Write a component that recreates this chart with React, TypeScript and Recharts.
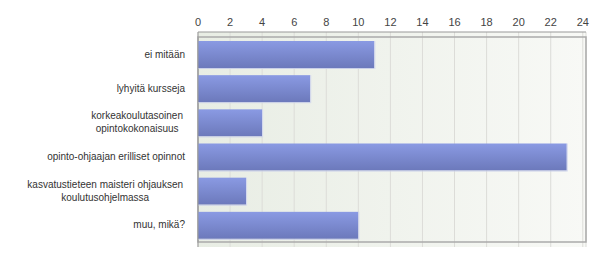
import { BarChart, Bar, XAxis, YAxis, CartesianGrid, ReferenceArea } from 'recharts';

document.body.style.margin = '0';

const categories = [
  'ei mitään',
  'lyhyitä kursseja',
  'korkeakoulutasoinen\nopintokokonaisuus',
  'opinto-ohjaajan erilliset opinnot',
  'kasvatustieteen maisteri ohjauksen\nkoulutusohjelmassa',
  'muu, mikä?',
];
const counts = [11, 7, 4, 23, 3, 10];
const xTicks = [0, 2, 4, 6, 8, 10, 12, 14, 16, 18, 20, 22, 24];

const data = categories.map((name, i) => ({ name, value: counts[i] }));

const FONT = '"Liberation Sans", Arial, sans-serif';
const FS = 10;

const ctx = document.createElement('canvas').getContext('2d');
const measure = (s: string) => {
  if (!ctx) return s.length * 5;
  ctx.font = `${FS}px ${FONT}`;
  return ctx.measureText(s).width;
};

const XTick = ({ x, payload }: any) => (
  <text x={x} y={26} textAnchor="middle" fontSize={11} fill="#444" fontFamily={FONT}>
    {payload.value}
  </text>
);

const YTick = ({ x, y, payload }: any) => {
  const lines = String(payload.value).split('\n');
  const lineH = 13;
  const top = y - ((lines.length - 1) * lineH) / 2;
  // multi-line labels: lines centred within a right aligned block
  const maxW = Math.max(...lines.map(measure));
  const cx = x - 7 - maxW / 2;
  return (
    <text fontSize={FS} fill="#333" fontFamily={FONT}>
      {lines.map((l, i) => (
        <tspan
          key={i}
          x={lines.length > 1 ? cx : x - 5}
          y={top + i * lineH}
          dy="0.35em"
          textAnchor={lines.length > 1 ? 'middle' : 'end'}
        >
          {l}
        </tspan>
      ))}
    </text>
  );
};

const BarShape = ({ x, y, width, height }: any) => (
  <g>
    <rect x={x} y={y} width={width} height={height} fill="url(#barGrad)" />
    <line x1={x} y1={y + height + 0.5} x2={x + width} y2={y + height + 0.5} stroke="#c9cfe8" />
    <line x1={x + width + 0.5} y1={y} x2={x + width + 0.5} y2={y + height + 1} stroke="#d3d8ee" />
  </g>
);

export default function App() {
  return (
    <div style={{ width: 600, height: 262, background: '#fff' }}>
      <BarChart
        width={600}
        height={262}
        data={data}
        layout="vertical"
        margin={{ top: 0, right: 14, bottom: 15, left: 8 }}
        barCategoryGap={0}
      >
        <defs>
          <linearGradient id="bgGrad" x1="0" y1="0" x2="1" y2="0">
            <stop offset="0%" stopColor="#e8ede4" />
            <stop offset="100%" stopColor="#f8f9f6" />
          </linearGradient>
          <linearGradient id="barGrad" x1="0" y1="0" x2="0" y2="1">
            <stop offset="0%" stopColor="#8a9ae3" />
            <stop offset="100%" stopColor="#6c79bb" />
          </linearGradient>
        </defs>
        <CartesianGrid horizontal={false} stroke="#dcdcd8" fill="url(#bgGrad)" />
        <ReferenceArea x1={0} x2={24.2} fill="none" stroke="#aaaaaa" strokeWidth={1.5} ifOverflow="visible" />
        <XAxis
          type="number"
          orientation="top"
          domain={[0, 24.2]}
          ticks={xTicks}
          height={32}
          axisLine={{ stroke: '#999' }}
          tickLine={false}
          tick={<XTick />}
          interval={0}
        />
        <YAxis
          type="category"
          dataKey="name"
          width={190}
          axisLine={{ stroke: '#999' }}
          tickLine={false}
          tick={<YTick />}
          interval={0}
          padding={{ top: 5, bottom: 5 }}
        />
        <Bar dataKey="value" barSize={27} shape={<BarShape />} isAnimationActive={false} />
      </BarChart>
    </div>
  );
}
